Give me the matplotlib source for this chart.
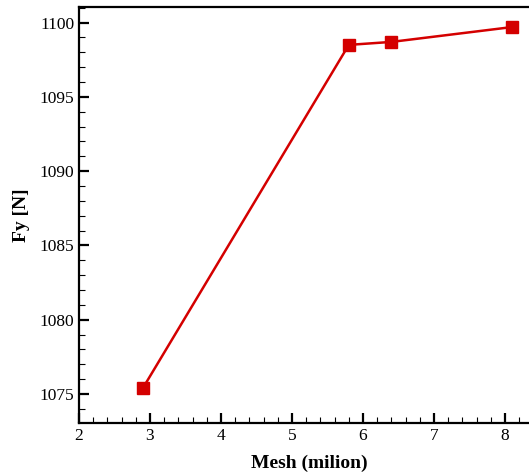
import matplotlib.pyplot as plt
from matplotlib.ticker import MultipleLocator

# data
mesh = [2.9, 5.8, 6.4, 8.1]
fy = [1075.4, 1098.5, 1098.7, 1099.7]

plt.rcParams['font.family'] = ['Liberation Serif', 'DejaVu Serif']

fig = plt.figure(figsize=(5.29, 4.75), dpi=100)
# axes run past the right edge of the figure, as in the reference
ax = fig.add_axes([79 / 529, 1 - 423 / 475, 461.5 / 529, 416 / 475])

ax.plot(mesh, fy, color='#d40000', linewidth=1.8, marker='s', markersize=9,
        markerfacecolor='#d40000', markeredgecolor='#d40000')

ax.set_xlim(2, 8.5)
ax.set_ylim(1073.05, 1101.05)
ax.xaxis.set_major_locator(MultipleLocator(1))
ax.xaxis.set_minor_locator(MultipleLocator(0.2))
ax.yaxis.set_major_locator(MultipleLocator(5))
ax.yaxis.set_minor_locator(MultipleLocator(1))

ax.tick_params(which='both', direction='in', top=False, right=False, labelsize=12.5)
ax.tick_params(which='major', length=7, width=1.6)
ax.tick_params(which='minor', length=4, width=0.8)
for s in ['left', 'bottom', 'top']:
    ax.spines[s].set_linewidth(1.6)
ax.spines['right'].set_visible(False)

ax.set_xlabel('Mesh (milion)', fontsize=14, fontweight='bold', labelpad=8)
ax.set_ylabel('Fy [N]', fontsize=14, fontweight='bold', labelpad=7)

fig.savefig('out.png', dpi=100)
